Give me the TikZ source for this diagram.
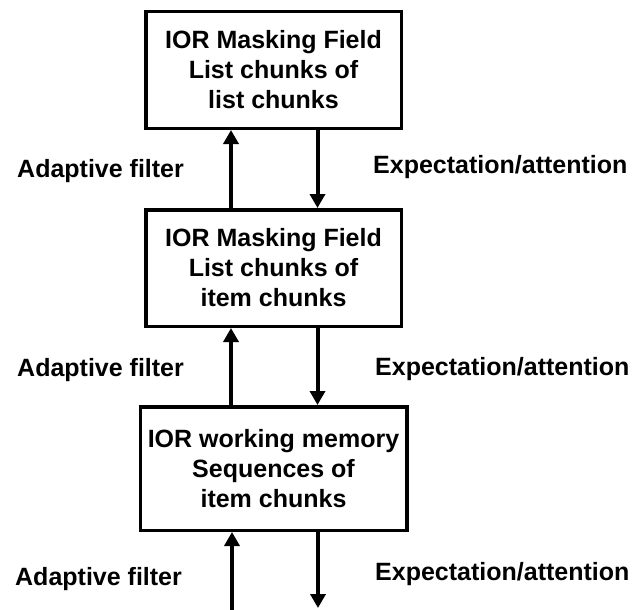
\documentclass[tikz,border=0pt]{standalone}
\usepackage{fontspec}
\setmainfont{Liberation Sans}
\usetikzlibrary{arrows.meta,positioning}

\begin{document}
\begin{tikzpicture}[
x=1pt,y=-1pt,
node distance=78pt
]

  \tikzstyle{level}=[draw,line width=3.5pt,align=center,inner sep=0pt,
    minimum width=255.5pt,minimum height=116.5pt,
    font=\fontsize{25}{30}\selectfont\bfseries]
  \tikzstyle{lab}=[anchor=base west,inner sep=0pt,
    font=\fontsize{25}{30}\selectfont\bfseries]
  \tikzstyle{flow}=[line width=4pt,-{Triangle[width=15pt,length=14pt]}]

  \useasboundingbox (0,0) rectangle (635,610);

  % the three levels
  \node (mf1) [level] at (273.5,70) {IOR Masking Field\\List chunks of\\list chunks};
  \node (mf2) [level,below=of mf1] {IOR Masking Field\\List chunks of\\item chunks};
  \node (wm) [level,below=77pt of mf2,minimum width=266.5pt,minimum height=123.5pt]
    {IOR working memory\\Sequences of\\item chunks};

  \coordinate (up) at (231,0);
  \coordinate (down) at (317.5,0);
  \coordinate (in) at (232,610);
  \coordinate (out) at (318,608);

  % bottom-up and top-down pathways
  \draw [flow] (mf2.north -| up) -- (mf1.south -| up);
  \draw [flow] (mf1.south -| down) -- (mf2.north -| down);

  \draw [flow] (wm.north -| up) -- (mf2.south -| up);
  \draw [flow] (mf2.south -| down) -- (wm.north -| down);

  \draw [flow] (in) -- (wm.south -| in);
  \draw [flow] (wm.south -| out) -- (out);

  % labels
  \node (af1) [lab] at (17,177) {Adaptive filter};
  \node (af2) [lab] at (17,376) {Adaptive filter};
  \node (af3) [lab] at (15,585) {Adaptive filter};

  \node (ea1) [lab] at (373,173) {Expectation/attention};
  \node (ea2) [lab] at (375,375) {Expectation/attention};
  \node (ea3) [lab] at (375,580) {Expectation/attention};

\end{tikzpicture}
\end{document}
